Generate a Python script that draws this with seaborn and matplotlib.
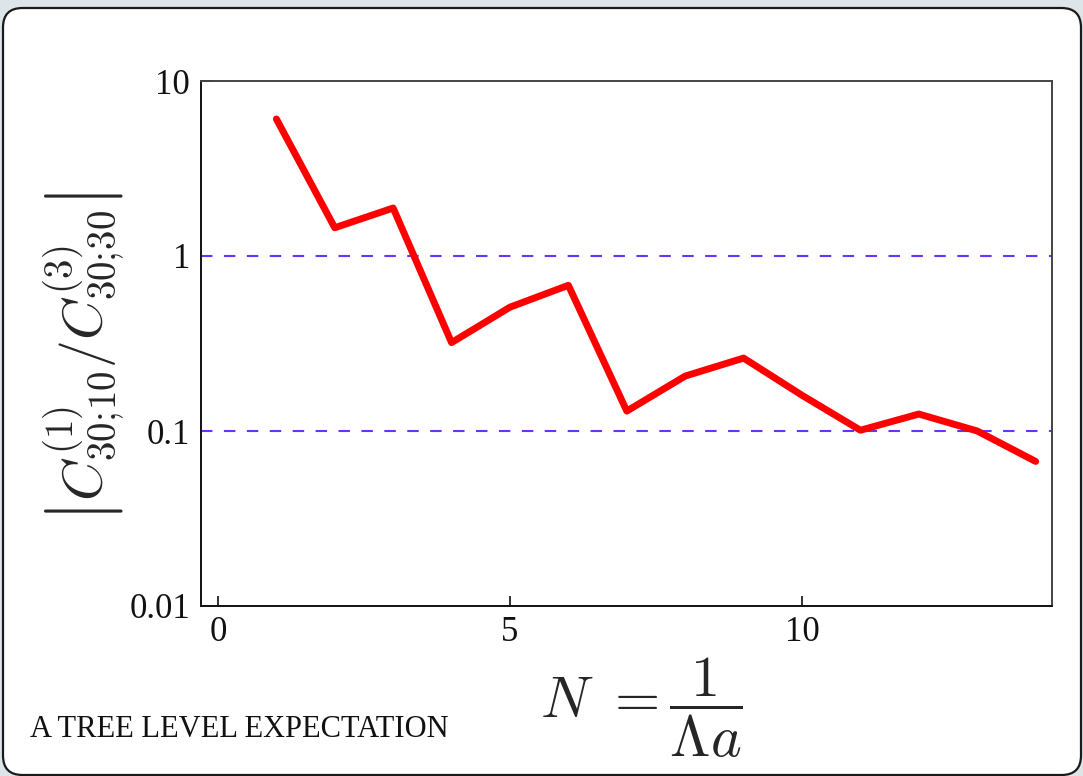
import matplotlib
matplotlib.use("Agg")
import matplotlib.pyplot as plt
from matplotlib.patches import FancyBboxPatch
import seaborn as sns
import pandas as pd

# Ratio of the two coefficients versus N
n_values = [1, 2, 3, 4, 5, 6, 7, 8, 9, 10, 11, 12, 13, 14]
ratio_values = [6.07, 1.45, 1.88, 0.32, 0.51, 0.68, 0.13, 0.206, 0.261,
                0.16, 0.101, 0.125, 0.10, 0.067]
reference_levels = [1.0, 0.1]
y_ticks = [0.01, 0.1, 1, 10]
y_tick_labels = ["0.01", "0.1", "1", "10"]
x_ticks = [0, 5, 10]
x_tick_labels = ["0", "5", "10"]
caption = "A TREE LEVEL EXPECTATION"

sns.set_theme(style="white")
plt.rcParams["font.family"] = ["Liberation Serif", "DejaVu Serif"]
plt.rcParams["mathtext.fontset"] = "cm"

df = pd.DataFrame({"N": n_values, "ratio": ratio_values})

fig = plt.figure(figsize=(10.83, 7.76), dpi=100)
fig.patch.set_facecolor("#dde5e8")

# Rounded white panel behind the chart
panel = FancyBboxPatch((3 / 1083, 1 / 776), 1078 / 1083, 767 / 776,
                       boxstyle="round,pad=0,rounding_size=0.018",
                       transform=fig.transFigure, facecolor="white",
                       edgecolor="#1a1a1a", linewidth=1.6, zorder=-5,
                       mutation_aspect=1083 / 776)
fig.patches.append(panel)

ax = fig.add_axes([201 / 1083, 1 - 606 / 776, 851 / 1083, 525 / 776])
ax.set_zorder(2)
ax.set_facecolor("white")

for lvl in reference_levels:
    ax.axhline(lvl, color="#6633ff", linewidth=1.5,
               linestyle=(0, (5.5, 5.5)), zorder=1)

sns.lineplot(data=df, x="N", y="ratio", ax=ax, color="#ff0000",
             linewidth=5, zorder=3)

ax.set_yscale("log")
ax.set_ylim(0.01, 10)
ax.set_xlim(-0.29, 14.28)
ax.set_yticks(y_ticks)
ax.set_yticklabels(y_tick_labels)
ax.set_xticks(x_ticks)
ax.set_xticklabels(x_tick_labels)
ax.minorticks_off()
ax.tick_params(axis="both", direction="in", length=7, width=1.2,
               labelsize=25, colors="#111111", pad=7,
               bottom=True, left=True, top=False, right=False)
ax.tick_params(axis="y", pad=8)

for side in ["left", "bottom"]:
    ax.spines[side].set_color("#111111")
    ax.spines[side].set_linewidth(1.4)
for side in ["top", "right"]:
    ax.spines[side].set_color("#444444")
    ax.spines[side].set_linewidth(1.4)
    ax.spines[side].set_visible(True)

ax.set_ylabel(r"$\left|C^{(1)}_{30;\!10}/C^{(3)}_{30;\!30}\right|$",
              fontsize=40)
ax.yaxis.set_label_coords(-0.086, 0.474)
ax.set_xlabel(r"$N\ =\dfrac{1}{\Lambda a}$", fontsize=42)
ax.xaxis.set_label_coords(0.518, -0.095)

fig.text(30 / 1083, 1 - 737 / 776, caption, fontsize=22,
         color="#111111", ha="left", va="baseline", zorder=3)

fig.savefig("out.png", dpi=100, facecolor=fig.get_facecolor())
